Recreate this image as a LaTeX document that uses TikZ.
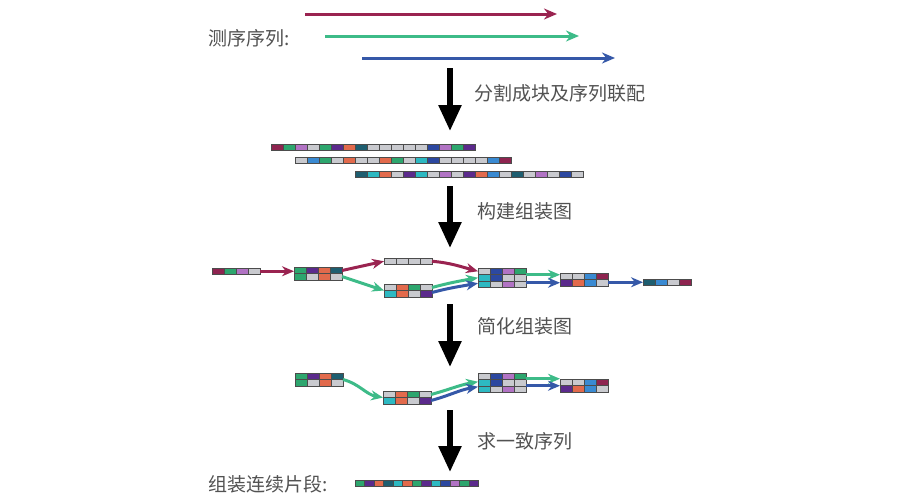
\documentclass[tikz,border=0pt]{standalone}
\usepackage{fontspec}
\newfontfamily\cjk{Noto Sans CJK SC}
\usetikzlibrary{arrows.meta,calc}
\definecolor{cMar}{HTML}{8E2450}
\definecolor{cGrn}{HTML}{2DA66E}
\definecolor{cOrc}{HTML}{B173C4}
\definecolor{cGry}{HTML}{C9CACF}
\definecolor{cPur}{HTML}{5B2A8C}
\definecolor{cOrg}{HTML}{E26A4C}
\definecolor{cTea}{HTML}{1E5E70}
\definecolor{cBlu}{HTML}{2C48A0}
\definecolor{cLbl}{HTML}{3A8AD2}
\definecolor{cCya}{HTML}{2DB9C2}
\definecolor{aMar}{HTML}{9A2350}
\definecolor{aGrn}{HTML}{3DBB88}
\definecolor{aBlu}{HTML}{3558A8}
\tikzset{
  blk/.style    = {draw=black!70, line width=0.8pt},
  grp/.style    = {inner sep=0pt, outer sep=0pt, minimum width=48pt, anchor=north west},
  link/.style   = {line width=3pt, -{Stealth[length=12pt,width=10pt]}},
  readarr/.style= {line width=3pt, -{Stealth[length=13pt,width=11pt]}},
  stepar/.style = {line width=5.5pt, -{Triangle[length=26pt,width=22pt]}},
  lbl/.style    = {font=\cjk\fontsize{19}{22}\selectfont, text=black!68, inner sep=0pt, anchor=west}
}
% a row of coloured blocks: [width] x, y, colours
\newcommand{\readrow}[4][12]{%
  \foreach \col [count=\i from 0] in {#4}
    \filldraw[blk, fill=\col] ({#2+\i*#1},#3) rectangle ++(#1,6.5);}

\begin{document}
\begin{tikzpicture}[x=1pt,y=-1pt]
  \useasboundingbox (0,0) rectangle (900,501);
  \fill[white] (0,0) rectangle (900,501);

  % sequencing reads
  \node[lbl] (lreads) at (208,38) {测序序列:};
  \coordinate (r1s) at (305,14);  \coordinate (r1e) at (557,14);
  \coordinate (r2s) at (325,36);  \coordinate (r2e) at (579,36);
  \coordinate (r3s) at (362,58);  \coordinate (r3e) at (615,58);
  \draw[readarr,aMar] (r1s) -- (r1e);
  \draw[readarr,aGrn] (r2s) -- (r2e);
  \draw[readarr,aBlu] (r3s) -- (r3e);

  % step 1
  \coordinate (s1a) at (450,68);  \coordinate (s1b) at (450,131);
  \draw[stepar] (s1a) -- (s1b);
  \node[lbl] (lstep1) at (474,93) {分割成块及序列联配};

  % aligned k-mer blocks
  \readrow{271}{144}{cMar,cGrn,cOrc,cGry,cGrn,cPur,cOrg,cTea,cGry,cGry,cGry,cGry,cGry,cBlu,cOrc,cGrn,cPur}
  \readrow{295}{157}{cGry,cLbl,cGrn,cGry,cOrg,cGry,cGry,cOrg,cGrn,cGry,cCya,cBlu,cGry,cGry,cGry,cGry,cLbl,cMar}
  \readrow{355}{171}{cTea,cCya,cOrg,cGry,cPur,cCya,cGry,cOrc,cGry,cPur,cOrg,cLbl,cGry,cTea,cGry,cOrc,cGry,cBlu,cGry}

  % step 2
  \coordinate (s2a) at (450,186);  \coordinate (s2b) at (450,248);
  \draw[stepar] (s2a) -- (s2b);
  \node[lbl] (lstep2) at (477,211) {构建组装图};

  % assembly graph
  \node[grp,minimum height=6.5pt] (A) at (212,268) {};
  \readrow{212}{268}{cMar,cGrn,cOrc,cGry}
  \node[grp,minimum height=13pt] (B) at (294,267) {};
  \readrow{294}{267}{cGrn,cPur,cOrg,cTea}
  \readrow{294}{273.5}{cGrn,cGry,cOrg,cGry}
  \node[grp,minimum height=6.5pt] (C) at (384,258) {};
  \readrow{384}{258}{cGry,cGry,cGry,cGry}
  \node[grp,minimum height=13pt] (D) at (384,284) {};
  \readrow{384}{284}{cGry,cOrg,cGrn,cGry}
  \readrow{384}{290.5}{cCya,cOrg,cGry,cPur}
  \node[grp,minimum height=19.5pt] (E) at (478,268) {};
  \readrow{478}{268}{cGry,cBlu,cOrc,cGrn}
  \readrow{478}{274.5}{cCya,cBlu,cGry,cGry}
  \readrow{478}{281}{cCya,cGry,cOrc,cGry}
  \node[grp,minimum height=13pt] (F) at (560,273) {};
  \readrow{560}{273}{cGry,cGry,cLbl,cMar}
  \readrow{560}{279.5}{cPur,cOrg,cLbl,cGry}
  \node[grp,minimum height=6.5pt] (G) at (643,279) {};
  \readrow{643}{279}{cTea,cLbl,cGry,cMar}

  \draw[link,aMar] (A.east) -- (A.east -| B.west);
  \draw[link,aMar] ([yshift=3pt]B.east) -- (C.west);
  \draw[link,aGrn] ([yshift=-3pt]B.east) -- (D.west);
  \draw[link,aMar] (C.east) to[out=-5,in=165] ([yshift=6.5pt]E.west);
  \draw[link,aGrn] ([yshift=3pt]D.east) to[out=15,in=190] (E.west);
  \draw[link,aBlu] ([yshift=-2pt]D.east) to[out=15,in=190] ([yshift=-5.5pt]E.west);
  \draw[link,aGrn] ([yshift=3pt]E.east) -- ([yshift=3pt]E.east -| F.west);
  \draw[link,aBlu] ([yshift=-5pt]E.east) -- ([yshift=-5pt]E.east -| F.west);
  \draw[link,aBlu] (G.west -| F.east) -- (G.west);

  % step 3
  \coordinate (s3a) at (450,304);  \coordinate (s3b) at (450,367);
  \draw[stepar] (s3a) -- (s3b);
  \node[lbl] (lstep3) at (477,326) {简化组装图};

  % simplified graph
  \node[grp,minimum height=13pt] (H) at (295,373) {};
  \readrow{295}{373}{cGrn,cPur,cOrg,cTea}
  \readrow{295}{379.5}{cGrn,cGry,cOrg,cGry}
  \node[grp,minimum height=13pt] (I) at (383,391) {};
  \readrow{383}{391}{cGry,cOrg,cGrn,cGry}
  \readrow{383}{397.5}{cCya,cOrg,cGry,cPur}
  \node[grp,minimum height=19.5pt] (J) at (478,373) {};
  \readrow{478}{373}{cGry,cBlu,cOrc,cGrn}
  \readrow{478}{379.5}{cCya,cBlu,cGry,cGry}
  \readrow{478}{386}{cCya,cGry,cOrc,cGry}
  \node[grp,minimum height=13pt] (K) at (560,379) {};
  \readrow{560}{379}{cGry,cGry,cLbl,cMar}
  \readrow{560}{385.5}{cPur,cOrg,cLbl,cGry}

  \draw[link,aGrn] (H.east) to[out=-15,in=170] (I.west);
  \draw[link,aGrn] ([yshift=3pt]I.east) to[out=15,in=190] ([yshift=1pt]J.west);
  \draw[link,aBlu] ([yshift=-3pt]I.east) to[out=15,in=190] ([yshift=-4pt]J.west);
  \draw[link,aGrn] ([yshift=4pt]J.east) -- ([yshift=4pt]J.east -| K.west);
  \draw[link,aBlu] ([yshift=-3pt]J.east) -- ([yshift=-3pt]J.east -| K.west);

  % step 4
  \coordinate (s4a) at (450,410);  \coordinate (s4b) at (450,472);
  \draw[stepar] (s4a) -- (s4b);
  \node[lbl] (lstep4) at (477,441) {求一致序列};

  % contig
  \node[lbl] (lcontig) at (208,484) {组装连续片段:};
  \readrow[9.5]{355}{480}{cGrn,cPur,cOrg,cTea,cCya,cOrg,cGrn,cPur,cCya,cBlu,cOrc,cGrn,cPur}
\end{tikzpicture}
\end{document}
